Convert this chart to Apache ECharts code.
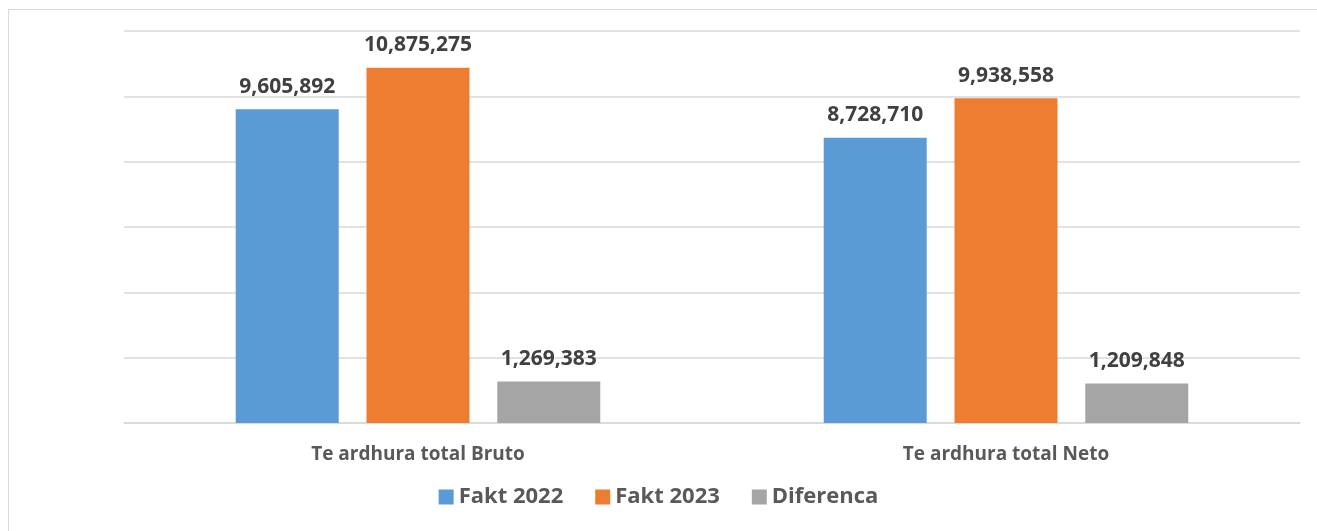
<!DOCTYPE html>
<html>
<head>
<meta charset="utf-8">
<title>Te ardhura total</title>
<script src="https://cdn.jsdelivr.net/npm/echarts@6/dist/echarts.min.js"></script>
<style>
    html, body { margin: 0; padding: 0; background: #fff; overflow: hidden; }
    #frame { position: absolute; left: 8px; top: 9px; width: 1330px; height: 540px; border: 1px solid #d9d9d9; }
    #chart { position: absolute; left: 0; top: 0; width: 1317px; height: 531px; }
</style>
</head>
<body>
<div id="frame"></div>
<div id="chart"></div>
<script>
const categories = ['Te ardhura total Bruto', 'Te ardhura total Neto']
const fakt2022 = [9605892, 8728710]
const fakt2023 = [10875275, 9938558]
const diferenca = [1269383, 1209848]

const font = 'Open Sans, Liberation Sans, sans-serif'

const chart = echarts.init(document.getElementById('chart'))

function bar(name, data, color) {
    return {
        name: name,
        type: 'bar',
        data: data,
        barGap: '27%',
        barCategoryGap: '38%',
        itemStyle: { color: color },
        label: {
            show: true,
            position: 'top',
            distance: 12,
            color: '#404040',
            fontFamily: font,
            fontWeight: 'bold',
            fontSize: 21,
            formatter: p => p.value.toLocaleString('en-US')
        },
        animation: false
    }
}

chart.setOption({
    grid: { left: 124, right: 17, top: 31, bottom: 108 },
    legend: {
        bottom: 18,
        left: 'center',
        itemWidth: 15,
        itemHeight: 15,
        itemGap: 32,
        icon: 'rect',
        textStyle: { color: '#595959', fontFamily: font, fontWeight: 'bold', fontSize: 22 },
        data: ['Fakt 2022', 'Fakt 2023', 'Diferenca']
    },
    xAxis: {
        type: 'category',
        data: categories,
        axisTick: { show: false },
        axisLine: { lineStyle: { color: '#d9d9d9', width: 1.5 } },
        axisLabel: { color: '#595959', fontFamily: font, fontWeight: 'bold', fontSize: 19, margin: 22 }
    },
    yAxis: {
        type: 'value',
        min: 0,
        max: 12000000,
        interval: 2000000,
        axisLabel: { show: false },
        axisLine: { show: false },
        axisTick: { show: false },
        splitLine: { lineStyle: { color: '#d9d9d9', width: 1.5 } }
    },
    series: [
        bar('Fakt 2022', fakt2022, '#5b9bd5'),
        bar('Fakt 2023', fakt2023, '#ed7d31'),
        bar('Diferenca', diferenca, '#a5a5a5')
    ]
})
</script>
</body>
</html>
